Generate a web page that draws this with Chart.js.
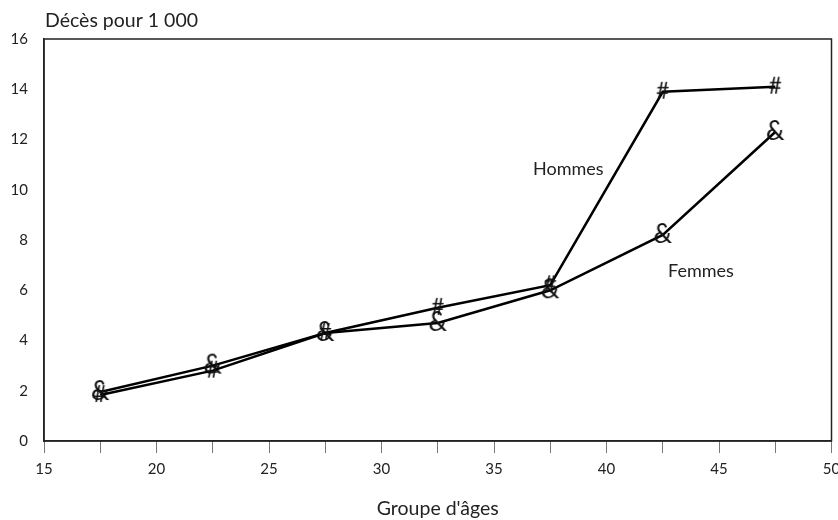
<!DOCTYPE html>
<html>
<head>
<meta charset="utf-8">
<script src="https://cdn.jsdelivr.net/npm/chart.js@4/dist/chart.umd.min.js"></script>
<style>
  html, body { margin: 0; padding: 0; background: #fff; }
  #wrap { width: 838px; height: 520px; }
</style>
</head>
<body>
<div id="wrap"><canvas id="chart"></canvas></div>
<script>
const ages = [17.5, 22.5, 27.5, 32.5, 37.5, 42.5, 47.5];
const hommes = [1.83, 2.8, 4.3, 5.3, 6.2, 13.9, 14.1];
const femmes = [1.95, 3.0, 4.3, 4.7, 6.0, 8.2, 12.3];
const xTicks = [15, 20, 25, 30, 35, 40, 45, 50];
const yTicks = [0, 2, 4, 6, 8, 10, 12, 14, 16];

const font = "Lato, 'Open Sans', sans-serif";

function glyph(ch, size) {
  const c = document.createElement("canvas");
  c.width = 32; c.height = 32;
  const g = c.getContext("2d");
  g.fillStyle = "#111";
  g.font = size + "px " + font;
  g.textAlign = "center";
  g.textBaseline = "middle";
  g.fillText(ch, 16, 16);
  return c;
}

const frame = {
  id: "frame",
  afterDraw(chart) {
    const { ctx, chartArea: a, scales } = chart;
    ctx.save();
    ctx.strokeStyle = "#222";
    ctx.lineWidth = 1.5;
    ctx.strokeRect(a.left, a.top, a.right - a.left, a.bottom - a.top);
    ctx.fillStyle = "#222";
    ctx.textBaseline = "alphabetic";
    ctx.font = "19.5px " + font;
    ctx.textAlign = "left";
    ctx.fillText("Décès pour 1 000", 45, 27);
    ctx.textAlign = "center";
    ctx.fillText("Groupe d'âges", (a.left + a.right) / 2, 515);
    ctx.font = "18px " + font;
    ctx.textBaseline = "middle";
    ctx.fillText("Hommes", scales.x.getPixelForValue(38.3), scales.y.getPixelForValue(10.8));
    ctx.fillText("Femmes", scales.x.getPixelForValue(44.2), scales.y.getPixelForValue(6.75));
    ctx.restore();
  }
};

new Chart(document.getElementById("chart"), {
  type: "line",
  data: {
    datasets: [
      {
        label: "Hommes",
        data: ages.map((a, i) => ({ x: a, y: hommes[i] })),
        borderColor: "#000",
        borderWidth: 2.5,
        pointStyle: glyph("#", 23),
        tension: 0
      },
      {
        label: "Femmes",
        data: ages.map((a, i) => ({ x: a, y: femmes[i] })),
        borderColor: "#000",
        borderWidth: 2.5,
        pointStyle: glyph("&", 26),
        tension: 0
      }
    ]
  },
  options: {
    responsive: true,
    maintainAspectRatio: false,
    animation: false,
    layout: { padding: { top: 39, right: 6, left: 0, bottom: 0 } },
    plugins: { legend: { display: false }, tooltip: { enabled: false } },
    scales: {
      x: {
        type: "linear",
        min: 15,
        max: 50,
        afterBuildTicks: s => {
          const t = [];
          for (let v = 15; v <= 50; v += 2.5) t.push({ value: v });
          s.ticks = t;
        },
        afterFit: s => { s.height = 79; s.paddingRight = 0; s.paddingLeft = 0; },
        ticks: {
          autoSkip: false,
          maxRotation: 0,
          padding: 7,
          color: "#222",
          font: { family: font, size: 15 },
          callback: v => xTicks.includes(v) ? String(v) : ""
        },
        grid: { drawOnChartArea: false, drawTicks: true, tickLength: 12, color: "#777" },
        border: { color: "#222", width: 1.5 }
      },
      y: {
        min: 0,
        max: 16,
        afterBuildTicks: s => { s.ticks = yTicks.map(v => ({ value: v })); },
        afterFit: s => { s.width = 44; s.paddingTop = 0; s.paddingBottom = 0; },
        ticks: {
          color: "#222",
          padding: 8,
          font: { family: font, size: 15 }
        },
        grid: { display: false },
        border: { color: "#222", width: 1.5 }
      }
    }
  },
  plugins: [frame]
});
</script>
</body>
</html>
